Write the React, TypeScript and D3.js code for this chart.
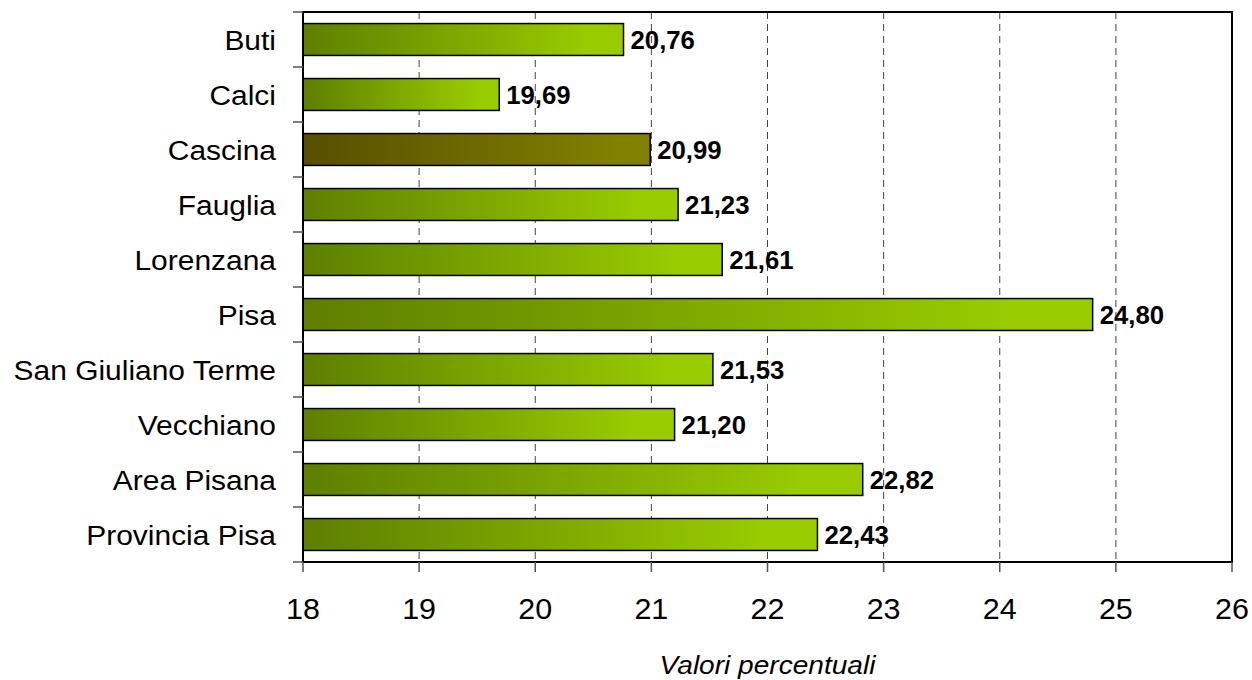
import React from "react";
import * as d3 from "d3";

const categories = [
  "Buti",
  "Calci",
  "Cascina",
  "Fauglia",
  "Lorenzana",
  "Pisa",
  "San Giuliano Terme",
  "Vecchiano",
  "Area Pisana",
  "Provincia Pisa",
];
const values = [20.76, 19.69, 20.99, 21.23, 21.61, 24.8, 21.53, 21.2, 22.82, 22.43];
const highlighted = ["Cascina"];
const xTicks = [18, 19, 20, 21, 22, 23, 24, 25, 26];
const xTitle = "Valori percentuali";

const W = 1252;
const H = 680;
const M = { left: 303, right: 20, top: 12, bottom: 118 };

export default function App() {
  const x = d3.scaleLinear().domain([18, 26]).range([M.left, W - M.right]);
  const y = d3
    .scaleBand<string>()
    .domain(categories)
    .range([M.top, H - M.bottom])
    .paddingInner(0.42)
    .paddingOuter(0.21);
  const step = y.step();
  const y0 = M.top;
  const y1 = H - M.bottom;
  const font = "'Liberation Sans', Arial, sans-serif";
  const fmt = (v: number) => v.toFixed(2).replace(".", ",");

  return (
    <svg
      width={W}
      height={H}
      style={{ position: "absolute", left: 0, top: 0, background: "#fff" }}
      fontFamily={font}
    >
      <defs>
        <linearGradient id="gGreen" x1="0" x2="1" y1="0" y2="0">
          <stop offset="0" stopColor="#5e7f00" />
          <stop offset="0.9" stopColor="#99cc00" />
          <stop offset="1" stopColor="#99cc00" />
        </linearGradient>
        <linearGradient id="gOlive" x1="0" x2="1" y1="0" y2="0">
          <stop offset="0" stopColor="#584e00" />
          <stop offset="0.9" stopColor="#818000" />
          <stop offset="1" stopColor="#818000" />
        </linearGradient>
      </defs>

      {xTicks.slice(1, -1).map((t) => (
        <line
          key={"g" + t}
          x1={x(t)}
          x2={x(t)}
          y1={y0}
          y2={y1}
          stroke="#444"
          strokeWidth={1}
          strokeDasharray="7,5"
        />
      ))}

      {categories.map((c, i) => (
        <rect
          key={c}
          x={x(18)}
          y={y(c)}
          width={x(values[i]) - x(18)}
          height={y.bandwidth()}
          fill={highlighted.includes(c) ? "url(#gOlive)" : "url(#gGreen)"}
          stroke="#000"
          strokeWidth={1.5}
        />
      ))}

      {categories.map((c, i) => (
        <text
          key={"v" + c}
          transform={`translate(${x(values[i]) + 7},${(y(c) as number) + y.bandwidth() / 2}) scale(1.03,1)`}
          dy="0.36em"
          fontSize={25}
          fontWeight="bold"
          fill="#000"
        >
          {fmt(values[i])}
        </text>
      ))}

      <rect
        x={x(18)}
        y={y0}
        width={x(26) - x(18)}
        height={y1 - y0}
        fill="none"
        stroke="#000"
        strokeWidth={2}
      />

      {d3.range(categories.length + 1).map((k) => (
        <line
          key={"lt" + k}
          x1={x(18) - 10}
          x2={x(18)}
          y1={y0 + k * step}
          y2={y0 + k * step}
          stroke="#555"
          strokeWidth={1.5}
        />
      ))}

      {categories.map((c) => (
        <text
          key={"c" + c}
          transform={`translate(${x(18) - 27},${(y(c) as number) + y.bandwidth() / 2}) scale(1.07,1)`}
          dy="0.36em"
          textAnchor="end"
          fontSize={28}
          fill="#000"
        >
          {c}
        </text>
      ))}

      {xTicks.map((t) => (
        <g key={"bt" + t}>
          <line x1={x(t)} x2={x(t)} y1={y1} y2={y1 + 10} stroke="#555" strokeWidth={1.5} />
          <text
            transform={`translate(${x(t)},${y1 + 57}) scale(1.05,1)`}
            textAnchor="middle"
            fontSize={29}
            fill="#000"
          >
            {t}
          </text>
        </g>
      ))}

      <text
        transform={`translate(${(x(18) + x(26)) / 2},${674}) scale(1.08,1)`}
        textAnchor="middle"
        fontSize={26}
        fontStyle="italic"
        fill="#000"
      >
        {xTitle}
      </text>
    </svg>
  );
}
